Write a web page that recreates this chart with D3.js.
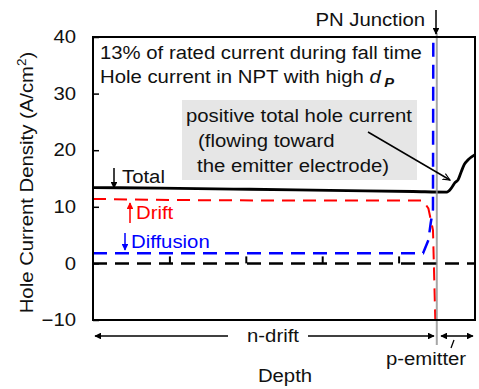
<!DOCTYPE html>
<html>
<head>
<meta charset="utf-8">
<script src="https://cdn.jsdelivr.net/npm/d3@7"></script>
<style>
  body { margin: 0; background: #fff; }
  text { font-family: "Liberation Sans", Arial, sans-serif; }
</style>
</head>
<body>
<div id="chart"></div>
<script>
// Data (depth in arbitrary units, junction at 4.5)
var yTicks = [-10, 0, 10, 20, 30, 40];
var depthTicks = [1, 2, 3, 4];
var junction = 4.5;

var totalX = [0, 0.88, 2.05, 3.10, 4.19, 4.63, 4.69, 4.74, 4.78, 4.82, 4.86, 4.91, 5.0];
var totalY = [13.4, 13.3, 13.1, 12.9, 12.7, 12.6, 13.3, 14.3, 14.8, 16.2, 17.5, 18.3, 19.2];

var driftX = [0, 1.0, 2.5, 4.32, 4.39, 4.45, 4.49];
var driftY = [11.4, 11.2, 11.1, 11.1, 9.7, 5.9, -15];

var diffX = [0, 2.0, 4.32, 4.39, 4.42, 4.45, 4.455];
var diffY = [1.8, 1.8, 1.8, 4.1, 7.1, 9.5, 45];

var margin = {top: 37, left: 93};
var width = 382, height = 283;
var stretch = 1.13;  // text in the original is a bit wide

var svg = d3.select("#chart").append("svg")
    .attr("width", 479)
    .attr("height", 389);

var x = d3.scaleLinear().domain([0, 5]).range([0, width]);
var y = d3.scaleLinear().domain([-10, 40]).range([height, 0]);

var defs = svg.append("defs");
defs.append("clipPath").attr("id", "clip")
  .append("rect").attr("width", width).attr("height", height);

function arrowMarker(id, color) {
  defs.append("marker")
      .attr("id", id)
      .attr("viewBox", "0 0 10 10")
      .attr("refX", 9).attr("refY", 5)
      .attr("markerWidth", 4.5).attr("markerHeight", 4.5)
      .attr("orient", "auto-start-reverse")
    .append("path")
      .attr("d", "M0,0 L10,5 L0,10 z")
      .attr("fill", color);
}
arrowMarker("arrBlack", "#000");
arrowMarker("arrRed", "#f00");
arrowMarker("arrBlue", "#00f");
defs.append("marker")
    .attr("id", "arrOpen")
    .attr("viewBox", "0 0 10 10")
    .attr("refX", 9).attr("refY", 5)
    .attr("markerWidth", 8).attr("markerHeight", 8)
    .attr("markerUnits", "userSpaceOnUse")
    .attr("orient", "auto")
  .append("path")
    .attr("d", "M0,1 L9,5 L0,9")
    .attr("fill", "none")
    .attr("stroke", "#000")
    .attr("stroke-width", 1.3);

// stretched text helper
function label(parent, px, py, str, opts) {
  opts = opts || {};
  var t = parent.append("text")
      .attr("transform", "translate(" + px + "," + py + ") scale(" + stretch + ",1)")
      .attr("font-size", opts.size || 18)
      .attr("fill", opts.color || "#111")
      .attr("text-anchor", opts.anchor || "start");
  if (str) t.text(str);
  return t;
}

function arrow(parent, x1, y1, x2, y2, marker, color, both) {
  var l = parent.append("line")
      .attr("x1", x1).attr("y1", y1).attr("x2", x2).attr("y2", y2)
      .attr("stroke", color || "#000")
      .attr("stroke-width", 1.5)
      .attr("marker-end", "url(#" + marker + ")");
  if (both) l.attr("marker-start", "url(#" + marker + ")");
  return l;
}

var focus = svg.append("g")
    .attr("transform", "translate(" + margin.left + "," + margin.top + ")");

// annotation box
focus.append("rect")
    .attr("x", 89).attr("y", 63)
    .attr("width", 235).attr("height", 80)
    .attr("fill", "#e6e6e6");

// y axis, ticks inward
var yAxis = d3.axisLeft(y).tickValues(yTicks).tickSize(-6).tickPadding(15);
var yg = focus.append("g").call(yAxis);
yg.select(".domain").remove();
yg.selectAll(".tick line").attr("stroke", "#000").attr("stroke-width", 1.5);
yg.selectAll(".tick text")
    .attr("font-size", 18)
    .attr("font-family", "Liberation Sans, Arial, sans-serif")
    .attr("fill", "#111")
    .attr("transform", "scale(" + stretch + ",1)");

// zero line with upward ticks
focus.append("line")
    .attr("x1", 0).attr("x2", width)
    .attr("y1", y(0)).attr("y2", y(0))
    .attr("stroke", "#000")
    .attr("stroke-width", 2.5)
    .attr("stroke-dasharray", "14,8");

var xAxis = d3.axisBottom(x).tickValues(depthTicks).tickSize(-7).tickFormat("");
var xg = focus.append("g")
    .attr("transform", "translate(0," + y(0) + ")")
    .call(xAxis);
xg.select(".domain").remove();
xg.selectAll(".tick line").attr("stroke", "#000").attr("stroke-width", 2);

// curves
var lines = focus.append("g").attr("clip-path", "url(#clip)");

var straight = d3.line()
    .x(function(d) { return x(d[0]); })
    .y(function(d) { return y(d[1]); });
var smooth = d3.line()
    .x(function(d) { return x(d[0]); })
    .y(function(d) { return y(d[1]); })
    .curve(d3.curveMonotoneX);

lines.append("path")
    .datum(diffX.map(function(v, i) { return [v, diffY[i]]; }))
    .attr("d", straight)
    .attr("fill", "none")
    .attr("stroke", "#0000ff")
    .attr("stroke-width", 2.5)
    .attr("stroke-dasharray", "14,8");

lines.append("path")
    .datum(driftX.map(function(v, i) { return [v, driftY[i]]; }))
    .attr("d", straight)
    .attr("fill", "none")
    .attr("stroke", "#ff0000")
    .attr("stroke-width", 2)
    .attr("stroke-dasharray", "13,8");

lines.append("path")
    .datum(totalX.map(function(v, i) { return [v, totalY[i]]; }))
    .attr("d", smooth)
    .attr("fill", "none")
    .attr("stroke", "#000")
    .attr("stroke-width", 2.8);

// PN junction line
focus.append("line")
    .attr("x1", x(junction)).attr("x2", x(junction))
    .attr("y1", -4).attr("y2", height + 25)
    .attr("stroke", "#909090")
    .attr("stroke-opacity", 0.8)
    .attr("stroke-width", 2);

// frame
focus.append("rect")
    .attr("width", width).attr("height", height)
    .attr("fill", "none")
    .attr("stroke", "#000")
    .attr("stroke-width", 2);

// y label
var yl = svg.append("text")
    .attr("transform", "translate(33," + (margin.top + height / 2 + 4) + ") rotate(-90) scale(" + stretch + ",1)")
    .attr("text-anchor", "middle")
    .attr("fill", "#111")
    .attr("font-size", 18);
yl.append("tspan").text("Hole Current Density (A/cm");
yl.append("tspan").attr("font-size", 12).attr("dy", -7).text("2");
yl.append("tspan").attr("dy", 7).text(")");

// texts in plot
label(svg, 100, 59, "13% of rated current during fall time");
var l2 = label(svg, 100, 83, "Hole current in NPT with high ");
l2.append("tspan").attr("font-style", "italic").text("d");
l2.append("tspan").attr("font-style", "italic").attr("font-weight", "bold")
    .attr("font-size", 13).attr("dx", 3).attr("dy", 4).text("P");

label(svg, 186, 122, "positive total hole current");
label(svg, 198, 147, "(flowing toward");
label(svg, 197, 172, "the emitter electrode)");
arrow(svg, 368, 132, 450, 180, "arrOpen");

label(svg, 425, 26, "PN Junction", {anchor: "end"});
arrow(svg, 436, 10, 436, 34, "arrBlack");

label(svg, 122, 183, "Total");
arrow(svg, 114, 168, 114, 188, "arrBlack");

label(svg, 136, 219, "Drift", {color: "#f00"});
arrow(svg, 130, 223, 130, 203, "arrRed", "#f00");

label(svg, 131, 248, "Diffusion", {color: "#00f"});
arrow(svg, 125, 233, 125, 250, "arrBlue", "#00f");

// bottom annotations
arrow(svg, 228, 336, 95, 336, "arrBlack");
arrow(svg, 308, 336, 434, 336, "arrBlack");
label(svg, 273, 342, "n-drift", {anchor: "middle"});
arrow(svg, 441, 336, 473, 336, "arrBlack", "#000", true);
svg.append("line")
    .attr("x1", 454).attr("y1", 340).attr("x2", 451).attr("y2", 348)
    .attr("stroke", "#000").attr("stroke-width", 1.3);
label(svg, 426, 365, "p-emitter", {anchor: "middle"});
label(svg, 285, 382, "Depth", {anchor: "middle"});
</script>
</body>
</html>
